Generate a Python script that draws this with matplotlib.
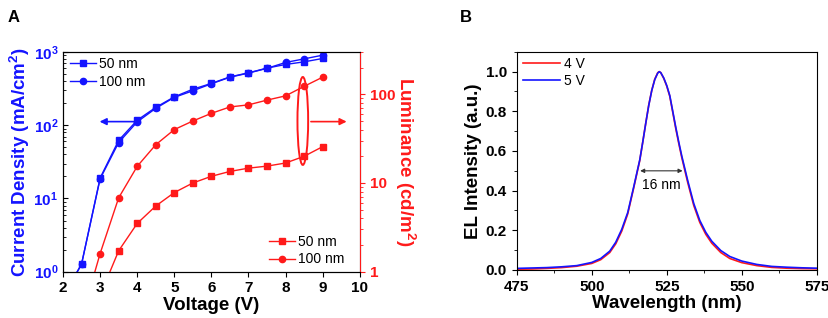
import numpy as np
import matplotlib
matplotlib.use('Agg')
from matplotlib import pyplot as plt
from matplotlib.patches import Ellipse
from matplotlib.ticker import FixedLocator, MultipleLocator, FuncFormatter

plt.rcParams['font.family'] = ['Liberation Sans', 'DejaVu Sans']
plt.rcParams['mathtext.fontset'] = 'custom'
plt.rcParams['mathtext.rm'] = 'Liberation Sans:bold'
plt.rcParams['mathtext.it'] = 'Liberation Sans:bold'
plt.rcParams['mathtext.bf'] = 'Liberation Sans:bold'

BLUE = '#1414ff'
RED = '#ff1a1a'

# --- panel A data
volt = [2.0, 2.5, 3.0, 3.5, 4.0, 4.5, 5.0, 5.5, 6.0, 6.5, 7.0, 7.5, 8.0, 8.5, 9.0]
j_50 = [0.45, 1.27, 19, 62, 117, 175, 244, 310, 372, 457, 519, 602, 675, 733, 815]
j_100 = [0.45, 1.27, 18.5, 58, 111, 170, 240, 295, 368, 452, 515, 598, 719, 805, 904]
lum_volt = [2.5, 3.0, 3.5, 4.0, 4.5, 5.0, 5.5, 6.0, 6.5, 7.0, 7.5, 8.0, 8.5, 9.0]
lum_50 = [0.1, 0.54, 1.72, 3.5, 5.5, 7.8, 10.0, 11.9, 13.5, 14.7, 15.5, 16.8, 20.0, 25.7]
lum_100 = [0.3, 1.6, 6.8, 15.4, 27, 40, 50, 61, 72, 76, 86, 96, 123, 156]

# --- panel B data
wl = [475, 480, 485, 490, 495, 500, 503, 506, 508, 510, 512, 514, 516, 517, 518, 519, 520, 521,
      522, 522.5, 523, 524, 525, 526, 527, 528, 529, 530, 532, 534, 536, 538, 540, 543, 546,
      550, 555, 560, 565, 570, 575]
el_5v = [0.008, 0.010, 0.012, 0.016, 0.022, 0.038, 0.058, 0.095, 0.140, 0.205, 0.290, 0.420,
         0.555, 0.645, 0.740, 0.830, 0.905, 0.960, 0.993, 1.000, 0.995, 0.968, 0.930, 0.880,
         0.800, 0.720, 0.645, 0.575, 0.450, 0.335, 0.250, 0.190, 0.145, 0.098, 0.068, 0.045,
         0.028, 0.018, 0.014, 0.011, 0.009]
el_4v = [0.004, 0.005, 0.008, 0.012, 0.019, 0.033, 0.052, 0.088, 0.132, 0.196, 0.283, 0.415,
         0.552, 0.645, 0.740, 0.832, 0.906, 0.962, 0.995, 1.000, 0.995, 0.966, 0.927, 0.876,
         0.795, 0.713, 0.638, 0.567, 0.440, 0.325, 0.240, 0.180, 0.135, 0.088, 0.058, 0.037,
         0.022, 0.013, 0.009, 0.007, 0.006]

fig = plt.figure(figsize=(8.29, 3.18), dpi=100)

# ================= panel A
ax = fig.add_axes([0.076, 0.1456, 0.358, 0.691])
ax.plot(volt, j_50, '-s', color=BLUE, lw=1, ms=4.5, label='50 nm')
ax.plot(volt, j_100, '-o', color=BLUE, lw=1, ms=4.5, label='100 nm')
ax.set_yscale('log')
ax.set_xlim(2, 10)
ax.set_ylim(1, 1000)
ax.xaxis.set_major_locator(MultipleLocator(1))
ax.yaxis.set_major_formatter(FuncFormatter(lambda v, p: r'$10^{%d}$' % round(np.log10(v))))
ax.tick_params(axis='y', which='both', direction='in', colors='black', labelcolor=BLUE, labelsize=11)
ax.tick_params(axis='x', direction='out', labelsize=11)
for t in ax.get_xticklabels():
    t.set_fontweight('bold')
ax.set_xlabel('Voltage (V)', fontsize=13.5, fontweight='bold', labelpad=1)
ax.set_ylabel('Current Density (mA/cm$^2$)', fontsize=13.5, fontweight='bold', color=BLUE, labelpad=1)
ax.legend(loc='upper left', bbox_to_anchor=(-0.01, 1.02), frameon=False, fontsize=10,
          handlelength=1.9, handletextpad=0.2, labelspacing=0.25, borderpad=0.2)

ax2 = ax.twinx()
ax2.plot(lum_volt, lum_50, '-s', color=RED, lw=1, ms=4.5, label='50 nm')
ax2.plot(lum_volt, lum_100, '-o', color=RED, lw=1, ms=4.5, label='100 nm')
ax2.set_yscale('log')
ax2.set_ylim(1, 300)
ax2.yaxis.set_major_locator(FixedLocator([1, 10, 100]))
ax2.yaxis.set_major_formatter(FuncFormatter(lambda v, p: '%d' % v))
ax2.spines['right'].set_color(RED)
ax2.tick_params(axis='y', which='both', direction='out', colors=RED, labelsize=11)
for t in ax2.get_yticklabels():
    t.set_fontweight('bold')
ax2.set_ylabel('Luminance (cd/m$^2$)', fontsize=13.5, fontweight='bold', color=RED,
               rotation=270, labelpad=16)
ax2.legend(loc='lower right', bbox_to_anchor=(0.98, -0.02), frameon=False, fontsize=10,
           handlelength=1.9, handletextpad=0.2, labelspacing=0.25, borderpad=0.2)

# annotations: ellipse and arrows
ax.add_patch(Ellipse((0.808, 0.686), 0.036, 0.40, transform=ax.transAxes, fill=False,
                     edgecolor=RED, lw=1.4, zorder=5))
ax.annotate('', xy=(0.114, 0.683), xytext=(0.25, 0.683), xycoords='axes fraction',
            arrowprops=dict(arrowstyle='-|>', color=BLUE, lw=1.2, mutation_scale=10))
ax.annotate('', xy=(0.965, 0.683), xytext=(0.826, 0.683), xycoords='axes fraction',
            arrowprops=dict(arrowstyle='-|>', color=RED, lw=1.2, mutation_scale=10))
fig.text(0.016, 0.945, 'A', fontsize=12, fontweight='bold', va='center', ha='center')

# ================= panel B
bx = fig.add_axes([0.6233, 0.151, 0.362, 0.686])
bx.plot(wl, el_4v, color=RED, lw=1.2, label='4 V')
bx.plot(wl, el_5v, color=BLUE, lw=1.2, label='5 V')
bx.set_xlim(475, 575)
bx.set_ylim(0, 1.1)
bx.xaxis.set_major_locator(MultipleLocator(25))
bx.xaxis.set_minor_locator(MultipleLocator(12.5))
bx.yaxis.set_major_locator(MultipleLocator(0.2))
bx.yaxis.set_minor_locator(MultipleLocator(0.1))
bx.yaxis.set_major_formatter(FuncFormatter(lambda v, p: '%.1f' % v))
bx.tick_params(which='both', direction='out', labelsize=11)
for t in bx.get_xticklabels() + bx.get_yticklabels():
    t.set_fontweight('bold')
bx.set_xlabel('Wavelength (nm)', fontsize=13.5, fontweight='bold', labelpad=1)
bx.set_ylabel('EL Intensity (a.u.)', fontsize=13.5, fontweight='bold', labelpad=3)
bx.legend(loc='upper left', bbox_to_anchor=(-0.01, 1.02), frameon=False, fontsize=10,
          handlelength=2.6, handletextpad=0.3, labelspacing=0.2, borderpad=0.2)
bx.annotate('', xy=(515.2, 0.5), xytext=(531.2, 0.5),
            arrowprops=dict(arrowstyle='<|-|>', color='#333333', lw=0.8, mutation_scale=6))
bx.text(523.3, 0.43, '16 nm', fontsize=10, ha='center', va='center')
fig.text(0.562, 0.945, 'B', fontsize=12, fontweight='bold', va='center', ha='center')

fig.savefig('out.png', dpi=100)
